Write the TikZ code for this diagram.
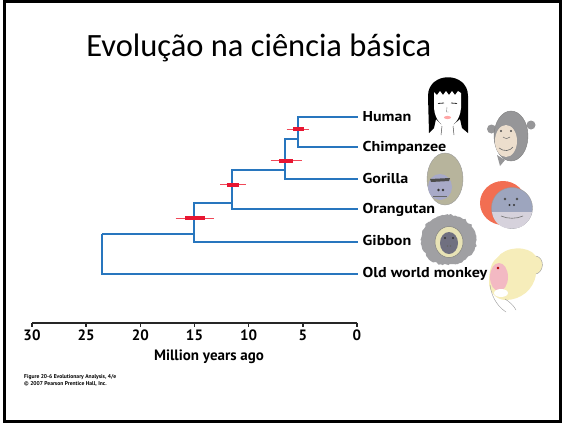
\documentclass[tikz,border=0pt]{standalone}
\usepackage{fontspec}
\setmainfont{Carlito}
\newfontfamily\labfont{PT Sans}
\newfontfamily\taxfont{PT Sans}[FakeStretch=1.12]
\usetikzlibrary{decorations.pathmorphing}

\definecolor{branch}{RGB}{40,118,190}
\definecolor{errbar}{RGB}{232,22,50}
\definecolor{errthin}{RGB}{240,72,88}
\definecolor{chgrey}{RGB}{150,150,152}
\definecolor{chface}{RGB}{236,222,205}
\definecolor{gohead}{RGB}{183,180,156}
\definecolor{goface}{RGB}{168,170,200}
\definecolor{orhair}{RGB}{242,110,82}
\definecolor{orface}{RGB}{157,165,190}
\definecolor{orlow}{RGB}{214,210,220}
\definecolor{gbfur}{RGB}{160,160,163}
\definecolor{gbring}{RGB}{232,227,182}
\definecolor{gbface}{RGB}{112,112,128}
\definecolor{mkhead}{RGB}{246,237,186}
\definecolor{mkface}{RGB}{243,185,195}

\tikzset{
  branchline/.style={draw=branch, line width=1.8pt},
  thinbar/.style={draw=errthin, line width=1.4pt},
  thickbar/.style={draw=errbar, line width=4pt},
  taxon/.style={anchor=west, inner xsep=5pt, inner ysep=0pt,
    text height=10pt, text depth=2.4pt,
    font=\taxfont\bfseries\fontsize{14.3}{14.3}\selectfont},
  ticklabel/.style={anchor=center, inner sep=0pt,
    font=\labfont\bfseries\fontsize{15}{15}\selectfont},
  axisline/.style={draw=black!85, line width=1.5pt},
  credit/.style={anchor=base west, inner sep=0pt,
    font=\labfont\bfseries\fontsize{5.6}{6}\selectfont},
}

\begin{document}
\begin{tikzpicture}[x=1pt, y=-1pt]
\useasboundingbox (0,0) rectangle (563,424);

% slide frame
\draw[line width=3pt] (4.5,1.5) rectangle (560.5,421.5);

% title
\node[anchor=base, inner sep=0pt, font=\fontsize{32.5}{32.5}\selectfont]
  (title) at (258.8,56.7) {Evolução na ciência básica};

% taxon labels (their west anchors are the branch tips)
\node[taxon] (human)   at (357.5,117.3) {Human};
\node[taxon] (chimp)   at (357.5,147.3) {Chimpanzee};
\node[taxon] (gorilla) at (357.5,179.3) {Gorilla};
\node[taxon] (orang)   at (357.5,209.3) {Orangutan};
\node[taxon] (gibbon)  at (357.5,241.7) {Gibbon};
\node[taxon] (monkey)  at (357.5,274.0) {Old world monkey};

% internal nodes of the tree
\coordinate (nHC)   at (297.7,139.3);
\coordinate (nHCG)  at (285.0,170.0);
\coordinate (nHCGO) at (231.7,203.3);
\coordinate (nApe)  at (194.3,234.3);
\coordinate (nRoot) at (102.3,234.3);

% branches
\draw[branchline] (human.west) -| (nHC);
\draw[branchline] (chimp.west) -| (nHC);
\draw[branchline] (nHC) -| (nHCG);
\draw[branchline] (gorilla.west) -| (nHCG);
\draw[branchline] (nHCG) -| (nHCGO);
\draw[branchline] (orang.west) -| (nHCGO);
\draw[branchline] (nHCGO) -| (nApe);
\draw[branchline] (gibbon.west) -| (nApe);
\draw[branchline] (nApe) -- (nRoot);
\draw[branchline] (monkey.west) -| (nRoot);

% divergence-time error bars
\draw[thinbar]  (286.7,129.3) -- (309.3,129.3);
\draw[thickbar] (293.0,129.3) -- (304.0,129.3);
\draw[thinbar]  (270.7,160.7) -- (301.7,160.7);
\draw[thickbar] (279.0,160.7) -- (293.0,160.7);
\draw[thinbar]  (220.0,184.7) -- (246.0,184.7);
\draw[thickbar] (226.7,184.7) -- (239.3,184.7);
\draw[thinbar]  (175.7,218.3) -- (214.0,218.3);
\draw[thickbar] (185.0,218.3) -- (205.0,218.3);

% time axis
\coordinate (a30) at (32,323);
\coordinate (a0)  at (357,323);
\draw[axisline] (a30) -- (a0);
\foreach \v/\px in {30/32,25/86.2,20/140.3,15/194.5,10/248.7,5/302.8,0/357} {
  \draw[axisline] (\px,322.5) -- (\px,327);
  \node[ticklabel] (t\v) at (\px,335.5) {\v};
}
\node[anchor=center, inner sep=0pt,
  font=\labfont\bfseries\fontsize{15}{15}\selectfont]
  (axtitle) at (209,357) {Million years ago};

% credits
\node[credit] (cred1) at (24,378) {Figure 20-6 Evolutionary Analysis, 4/e};
\node[credit] (cred2) at (24,385.5) {© 2007 Pearson Prentice Hall, Inc.};

% ---- portraits ----
% human
\fill[black] (429,133) -- (428,96) .. controls (428,71) and (468,71) .. (468,96)
  -- (468,133) -- (462,128) -- (460,119) -- (454,124) -- (441,124)
  -- (436,119) -- (434,128) -- cycle;
\fill[white] (434,92) -- (437,95) -- (440,91) -- (443,95) -- (446,91) -- (449,95)
  -- (452,91) -- (455,95) -- (458,91) -- (461,93) -- (461,108)
  .. controls (460,121) and (452,127) .. (447.5,127)
  .. controls (443,127) and (435,121) .. (434,108) -- cycle;
\draw[black!70, line width=0.5pt] (442,126) -- (441,135) (453,126) -- (454,135);
\draw[black!80, line width=0.8pt] (438,103.5) -- (444,103) (451,103) -- (457,103.5);
\draw[black!50, line width=0.4pt] (447,107) -- (446.5,112) -- (448.5,112);
\fill[red!35] (447.5,117.5) ellipse (3.6 and 1.6);

% chimpanzee
\fill[chgrey] (491.5,129) circle (4.5);
\fill[chgrey] (531,125) circle (4.5);
\fill[chgrey] (497,155) -- (500,166) -- (505,160) -- cycle;
\filldraw[fill=chgrey, draw=black!50, line width=0.4pt] (511,136) ellipse (17 and 25);
\fill[chface] (506,141) ellipse (11 and 16);
\fill[black!70] (501,131) circle (1.2) (511,131) circle (1.2);
\draw[black!60, line width=0.5pt] (503,137) .. controls (506,139) and (508,139) .. (510,137);
\draw[black!60, line width=0.6pt] (499,148) .. controls (504,152) and (510,151) .. (513,147);

% gorilla
\filldraw[fill=gohead, draw=black!40, line width=0.4pt] (445,179) ellipse (18 and 26);
\fill[goface] (440,187) ellipse (12 and 13);
\fill[black!70] (430,179) -- (450,178) -- (449,181) -- (431,182) -- cycle;
\fill[black!80] (438.5,190) circle (1.3) (443,190) circle (1.3);
\draw[black!60, line width=0.5pt] (433,196) -- (447,196);

% orangutan
\fill[orhair] (503,203) ellipse (23 and 22);
\filldraw[fill=orface, draw=black!40, line width=0.4pt] (512,208) circle (20.5);
\fill[orlow] (492,212) .. controls (494,225) and (504,229) .. (512,228.5)
  .. controls (522,229) and (530,222) .. (532,212) -- cycle;
\fill[black!70] (505,199) circle (1.3) (517,199) circle (1.3);
\fill[black!80] (509.5,205) circle (1.2) (514,205) circle (1.2);
\draw[black!55, line width=0.6pt] (501,216) .. controls (508,219) and (516,219) .. (523,216);

% gibbon
\fill[gbfur, decorate, decoration={random steps, segment length=2.5pt, amplitude=1.2pt}]
  (448.5,240) ellipse (28 and 25);
\filldraw[fill=gbring, draw=black!50, line width=0.5pt] (449,242) ellipse (14 and 15.5);
\fill[gbface] (449,243) ellipse (9 and 11);
\fill[black!80] (445,238) circle (1.2) (453,238) circle (1.2);
\fill[black!60] (447.5,246) circle (0.9) (450.5,246) circle (0.9);

% old world monkey
\fill[mkhead] (497,258) .. controls (505,246) and (528,245) .. (536,256)
  .. controls (545,258) and (544,272) .. (536,274)
  .. controls (534,290) and (520,300) .. (506,300)
  .. controls (496,300) and (489,292) .. (489,282)
  .. controls (489,272) and (491,262) .. (497,258) -- cycle;
\draw[black!40, line width=0.4pt] (536,256) .. controls (545,258) and (544,272) .. (536,274);
\fill[mkface] (499,277) ellipse (9 and 14);
\fill[red!70!black] (498,268) circle (1.3);
\fill[white] (501,293) ellipse (7 and 4);
\draw[black!40, line width=0.4pt] (490,285) .. controls (492,300) and (500,308) .. (506,312);
\draw[black!40, line width=0.4pt] (505,299) .. controls (510,302) and (514,306) .. (516,310);

\end{tikzpicture}
\end{document}
